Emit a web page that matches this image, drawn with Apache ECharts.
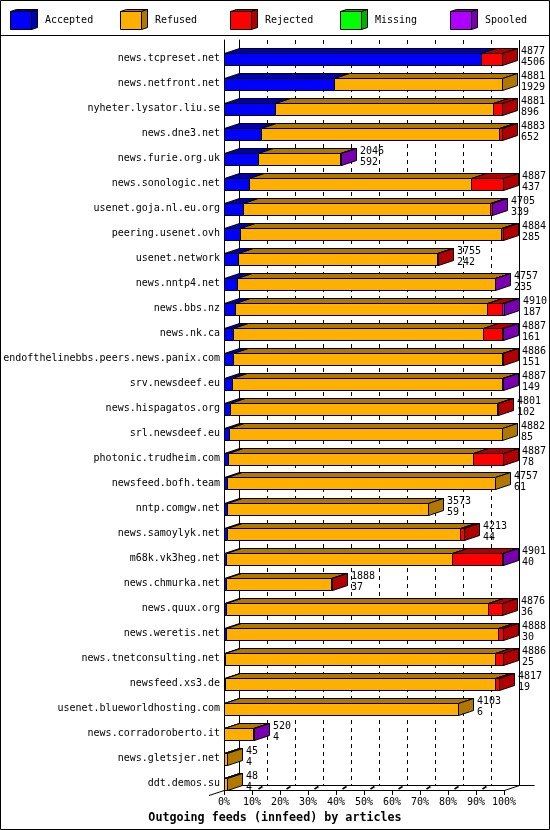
<!DOCTYPE html>
<html><head><meta charset="utf-8">
<script src="https://cdn.jsdelivr.net/npm/echarts@6/dist/echarts.min.js"></script>
<style>html,body{margin:0;padding:0;background:#fff}#c{width:550px;height:830px}</style>
</head><body><div id="c"></div>
<script>
const categories = ['news.tcpreset.net','news.netfront.net','nyheter.lysator.liu.se','news.dne3.net','news.furie.org.uk','news.sonologic.net','usenet.goja.nl.eu.org','peering.usenet.ovh','usenet.network','news.nntp4.net','news.bbs.nz','news.nk.ca','endofthelinebbs.peers.news.panix.com','srv.newsdeef.eu','news.hispagatos.org','srl.newsdeef.eu','photonic.trudheim.com','newsfeed.bofh.team','nntp.comgw.net','news.samoylyk.net','m68k.vk3heg.net','news.chmurka.net','news.quux.org','news.weretis.net','news.tnetconsulting.net','newsfeed.xs3.de','usenet.blueworldhosting.com','news.corradoroberto.it','news.gletsjer.net','ddt.demos.su'];
const totals   = [4877,4881,4881,4883,2046,4887,4705,4884,3755,4757,4910,4887,4886,4887,4801,4882,4887,4757,3573,4213,4901,1888,4876,4888,4886,4817,4103,520,45,48];
const accepted = [4506,1929,896,652,592,437,339,285,242,235,187,161,151,149,102,85,78,61,59,44,40,37,36,30,25,19,6,4,4,4];
const refused  = [0,2952,3827,4166,1446,3901,4328,4579,3498,4512,4418,4378,4725,4728,4679,4797,4294,4696,3514,4099,3961,1843,4595,4778,4721,4738,4097,506,41,44];
const rejected = [371,0,158,65,0,549,30,20,15,0,275,328,10,0,20,0,515,0,0,70,880,8,245,80,140,60,0,0,0,0];
const missing  = [0,0,0,0,0,0,0,0,0,0,0,0,0,0,0,0,0,0,0,0,0,0,0,0,0,0,0,0,0,0];
const spooled  = [0,0,0,0,8,0,8,0,0,10,30,20,0,10,0,0,0,0,0,0,20,0,0,0,0,0,0,10,0,0];
const tickLabels = ['0%','10%','20%','30%','40%','50%','60%','70%','80%','90%','100%'];
const seriesNames = ['Accepted','Refused','Rejected','Missing','Spooled'];
const titleText = 'Outgoing feeds (innfeed) by articles';

const frontColors = ['#0000FF','#FFAF00','#FF0000','#00FF00','#AF00FF'];
const sideColors  = ['#0000B0','#B07800','#B00000','#00B000','#7800B0'];
const FONT = 'DejaVu Sans Mono';
const FONT10 = '10px "DejaVu Sans Mono"';
const DX = 15, DY = -5, BAR_H = 12;

const maxTotal = Math.max(...totals);
const step = maxTotal / 10;
const parts = [accepted, refused, rejected, missing, spooled];
const lastIdx = categories.map((_, i) => { let l = 0; parts.forEach((p, k) => { if (p[i] > 0) l = k; }); return l; });
const seriesData = parts.map((p, k) => categories.map((_, i) => {
  let s = 0; for (let j = 0; j < k; j++) s += parts[j][i];
  return [s, s + p[i], i, lastIdx[i] === k ? 1 : 0];
}));

function px(v) { return Math.round(v) + 0.5; }
function txt(x, y, text, extra) {
  return Object.assign({ type: 'text', x: x, y: y, style: { text: text, font: FONT10, fill: '#000', align: 'left', textAlign: 'left', verticalAlign: 'middle', textVerticalAlign: 'middle' } }, extra || {});
}

function makeRender(k) {
  return function (params, api) {
    const s = api.value(0), e = api.value(1), row = api.value(2), last = api.value(3);
    if (e <= s) return { type: 'group', children: [] };
    const a = api.coord([s, row]), b = api.coord([e, row]);
    const x0 = px(a[0]), x1 = px(b[0]);
    const y0 = Math.round(a[1]) + 0.5;
    const st = (f) => ({ fill: f, stroke: '#000', lineWidth: 1 });
    const ch = [
      { type: 'polygon', shape: { points: [[x0, y0], [x1, y0], [x1 + DX, y0 + DY], [x0 + DX, y0 + DY]] }, style: st(sideColors[k]) },
      { type: 'rect', shape: { x: x0, y: y0, width: x1 - x0, height: BAR_H }, style: st(frontColors[k]) }
    ];
    if (last) ch.push({ type: 'polygon', shape: { points: [[x1, y0], [x1 + DX, y0 + DY], [x1 + DX, y0 + DY + BAR_H], [x1, y0 + BAR_H]] }, style: st(sideColors[k]) });
    return { type: 'group', children: ch };
  };
}

const series = seriesNames.map((name, k) => ({
  name: name, type: 'custom', xAxisIndex: 0, yAxisIndex: 0,
  encode: { x: [0, 1], y: 2 }, data: seriesData[k], renderItem: makeRender(k), z: 3
}));
series.push({
  name: 'labels', type: 'custom', xAxisIndex: 0, yAxisIndex: 0, z: 4,
  encode: { x: 0, y: 1 },
  data: categories.map((_, i) => [totals[i], i, accepted[i]]),
  renderItem: function (params, api) {
    const p = api.coord([api.value(0), api.value(1)]);
    const x = Math.round(p[0]) + DX + 4, c = p[1];
    return { type: 'group', children: [txt(x, c - 1.5, String(api.value(0))), txt(x, c + 9.5, String(api.value(2)))] };
  }
});

const g = [];
g.push({ type: 'rect', shape: { x: 0.5, y: 0.5, width: 549, height: 829 }, style: { fill: null, stroke: '#000', lineWidth: 1 } });
g.push({ type: 'line', shape: { x1: 0, y1: 35.5, x2: 550, y2: 35.5 }, style: { stroke: '#000', lineWidth: 1 } });
seriesNames.forEach((name, k) => {
  const x = 10.5 + 110 * k, y = 11.5, w = 21, h = 18, dx = 6, dy = -2;
  g.push({ type: 'polygon', shape: { points: [[x, y], [x + w, y], [x + w + dx, y + dy], [x + dx, y + dy]] }, style: { fill: sideColors[k], stroke: '#000', lineWidth: 1 } });
  g.push({ type: 'polygon', shape: { points: [[x + w, y], [x + w + dx, y + dy], [x + w + dx, y + dy + h], [x + w, y + h]] }, style: { fill: sideColors[k], stroke: '#000', lineWidth: 1 } });
  g.push({ type: 'rect', shape: { x: x, y: y, width: w, height: h }, style: { fill: frontColors[k], stroke: '#000', lineWidth: 1 } });
  g.push(txt(x + 34.5, 20.5, name));
});
// floor of the 3D plot
const ln = (x1, y1, x2, y2, w) => ({ type: 'line', shape: { x1, y1, x2, y2 }, style: { stroke: '#000', lineWidth: w || 1 } });
g.push(ln(239.5, 785.5, 534.5, 785.5));
g.push(ln(519.5, 40, 519.5, 785.5));
g.push(ln(504.5, 790.5, 519.5, 785.5));
g.push(ln(209, 795.5, 239.5, 785.5));
for (let t = 1; t <= 9; t++) {
  const fx = 224.5 + 28 * t;
  g.push(ln(fx + 6, 789, fx + 10, 786.5, 1.5));
}

const chart = echarts.init(document.getElementById('c'), null, { renderer: 'canvas' });
chart.setOption({
  animation: false,
  backgroundColor: '#fff',
  title: { text: titleText, left: 'center', top: 812, padding: 0, textStyle: { fontFamily: FONT, fontSize: 11.7, fontWeight: 'bold', color: '#000' } },
  grid: [
    { left: 224, right: 46, top: 40, bottom: 40 },
    { left: 239, right: 31, top: 40, bottom: 45 }
  ],
  xAxis: [
    { gridIndex: 0, type: 'value', min: 0, max: maxTotal, interval: step,
      axisLine: { show: true, onZero: false, lineStyle: { color: '#000', width: 1 } },
      axisTick: { show: true, length: 5, lineStyle: { color: '#000' } },
      splitLine: { show: false },
      axisLabel: { formatter: v => tickLabels[Math.round(v / step)], fontFamily: FONT, fontSize: 10, color: '#000', margin: 7 } },
    { gridIndex: 1, type: 'value', min: 0, max: maxTotal, interval: step,
      axisLine: { show: false }, axisTick: { show: false }, axisLabel: { show: false },
      splitLine: { show: true, lineStyle: { color: '#000', width: 1, type: [4, 4] } } }
  ],
  yAxis: [
    { gridIndex: 0, type: 'category', data: categories, inverse: true,
      axisLine: { show: true, onZero: false, lineStyle: { color: '#000' } }, axisTick: { show: false },
      splitLine: { show: false },
      axisLabel: { interval: 0, fontFamily: FONT, fontSize: 10, color: '#000', margin: 4, verticalAlign: 'top', lineHeight: 12 } },
    { gridIndex: 1, type: 'category', data: categories, inverse: true,
      axisLine: { show: true, onZero: false, lineStyle: { color: '#000' } }, axisTick: { show: false },
      axisLabel: { show: false }, splitLine: { show: false } }
  ],
  graphic: { elements: g },
  series: series
});
</script>
</body></html>
